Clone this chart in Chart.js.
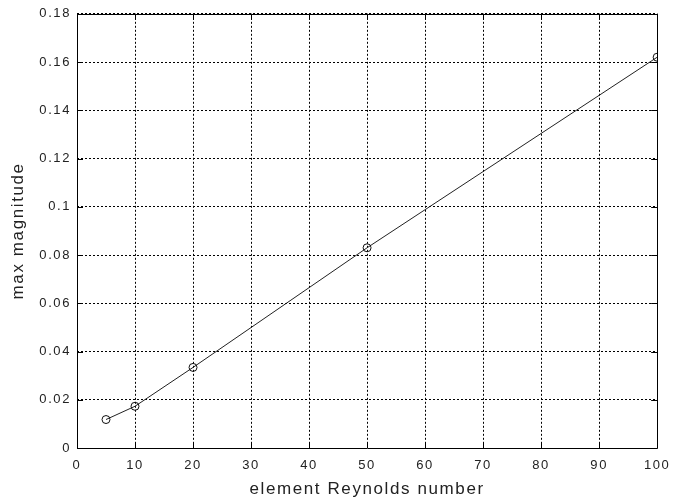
<!DOCTYPE html>
<html>
<head>
<meta charset="utf-8">
<script src="https://cdn.jsdelivr.net/npm/chart.js@4"></script>
<style>
  html, body { margin: 0; padding: 0; background: #fff; }
  #wrap { width: 678px; height: 502px; }
</style>
</head>
<body>
<div id="wrap"><canvas id="c" width="678" height="502"></canvas></div>
<script>
// Peak magnitude against element Reynolds number
const reynolds = [5, 10, 20, 50, 100];
const maxMagnitude = [0.0118, 0.0173, 0.0334, 0.083, 0.162];
const xTicks = [0, 10, 20, 30, 40, 50, 60, 70, 80, 90, 100];
const yTicks = [0, 0.02, 0.04, 0.06, 0.08, 0.1, 0.12, 0.14, 0.16, 0.18];

const FONT = 'Liberation Sans, Arial, Helvetica, sans-serif';

// Wide character spacing for all axis text
const spacingPlugin = {
  id: 'spacing',
  beforeDraw(chart) { chart.ctx.letterSpacing = '1.6px'; }
};

// Frame around the plot area plus short inward tick marks on every side
const framePlugin = {
  id: 'frame',
  afterDatasetsDraw(chart) {
    const { ctx, chartArea: a, scales } = chart;
    ctx.save();
    ctx.strokeStyle = '#000';
    ctx.lineWidth = 1;
    ctx.setLineDash([]);
    ctx.beginPath();
    ctx.rect(Math.round(a.left) + 0.5, Math.round(a.top) + 0.5,
             Math.round(a.right - a.left), Math.round(a.bottom - a.top));
    const t = 6;
    xTicks.forEach(v => {
      const x = Math.round(scales.x.getPixelForValue(v)) + 0.5;
      ctx.moveTo(x, a.bottom); ctx.lineTo(x, a.bottom - t);
      ctx.moveTo(x, a.top); ctx.lineTo(x, a.top + t);
    });
    yTicks.forEach(v => {
      const y = Math.round(scales.y.getPixelForValue(v)) + 0.5;
      ctx.moveTo(a.left, y); ctx.lineTo(a.left + t, y);
      ctx.moveTo(a.right, y); ctx.lineTo(a.right - t, y);
    });
    ctx.stroke();
    ctx.restore();
  }
};

new Chart(document.getElementById('c'), {
  type: 'scatter',
  data: {
    datasets: [{
      data: reynolds.map((x, i) => ({ x, y: maxMagnitude[i] })),
      showLine: true,
      borderColor: '#222',
      borderWidth: 1,
      pointStyle: 'circle',
      pointRadius: 4,
      pointBorderWidth: 1,
      pointBorderColor: '#111',
      pointBackgroundColor: 'rgba(0,0,0,0)',
      tension: 0
    }]
  },
  options: {
    responsive: false,
    animation: false,
    devicePixelRatio: 1,
    layout: { padding: { top: 12, right: 18, left: 0, bottom: 0 } },
    plugins: { legend: { display: false }, tooltip: { enabled: false } },
    scales: {
      x: {
        type: 'linear',
        min: 0, max: 100,
        afterBuildTicks(s) { s.ticks = xTicks.map(v => ({ value: v })); },
        afterFit(s) { s.height = 54; },
        border: { display: false, dash: [2, 2] },
        grid: { color: '#000', lineWidth: 1, drawTicks: false },
        ticks: { color: '#222', font: { family: FONT, size: 13 }, padding: 10, maxRotation: 0,
                 callback: v => String(v) },
        title: { display: true, text: 'element Reynolds number', color: '#222',
                 font: { family: FONT, size: 17 }, padding: { top: 0, bottom: 2 } }
      },
      y: {
        type: 'linear',
        min: 0, max: 0.18,
        afterBuildTicks(s) { s.ticks = yTicks.map(v => ({ value: v })); },
        afterFit(s) { s.width = 77; },
        border: { display: false, dash: [2, 2] },
        grid: { color: '#000', lineWidth: 1, drawTicks: false },
        ticks: { color: '#222', font: { family: FONT, size: 13 }, padding: 6,
                 callback: v => String(parseFloat(v.toFixed(2))) },
        title: { display: true, text: 'max magnitude', color: '#222',
                 font: { family: FONT, size: 17 }, padding: { top: 8, bottom: 0 } }
      }
    }
  },
  plugins: [spacingPlugin, framePlugin]
});
</script>
</body>
</html>
